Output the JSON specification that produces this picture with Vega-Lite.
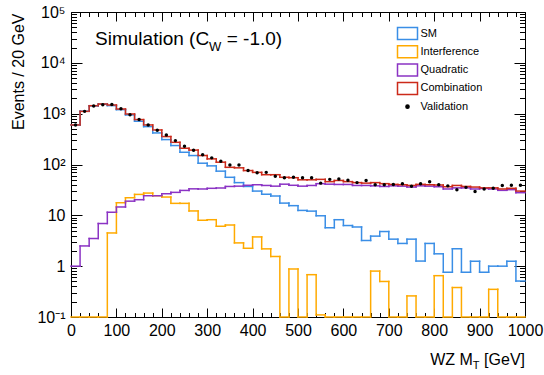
{
  "$schema": "https://vega.github.io/schema/vega-lite/v6.json",
  "width": 454,
  "height": 305,
  "autosize": {"type": "none"},
  "padding": {"left": 71, "top": 12, "right": 19, "bottom": 58},
  "background": "white",
  "config": {
    "view": {"stroke": "black", "strokeWidth": 1},
    "font": "Liberation Sans",
    "axis": {"grid": false, "domain": false, "ticks": true, "tickColor": "black", "tickWidth": 1, "labelColor": "black", "labelFont": "Liberation Sans", "labelFontSize": 16, "labelOverlap": false, "labelFlush": false, "labelBound": false, "titleColor": "black", "titleFont": "Liberation Sans", "titleFontWeight": "normal", "titleFontSize": 16}
  },
  "datasets": {
    "hist": [
      {"s":"SM","lo":0,"hi":20,"v":600},{"s":"SM","lo":20,"hi":40,"v":1120},{"s":"SM","lo":40,"hi":60,"v":1420},{"s":"SM","lo":60,"hi":80,"v":1540},{"s":"SM","lo":80,"hi":100,"v":1440},
      {"s":"SM","lo":100,"hi":120,"v":1200},{"s":"SM","lo":120,"hi":140,"v":945},{"s":"SM","lo":140,"hi":160,"v":710},{"s":"SM","lo":160,"hi":180,"v":556},{"s":"SM","lo":180,"hi":200,"v":418},
      {"s":"SM","lo":200,"hi":220,"v":309},{"s":"SM","lo":220,"hi":240,"v":236},{"s":"SM","lo":240,"hi":260,"v":174},{"s":"SM","lo":260,"hi":280,"v":150},{"s":"SM","lo":280,"hi":300,"v":106},
      {"s":"SM","lo":300,"hi":320,"v":94},{"s":"SM","lo":320,"hi":340,"v":74},{"s":"SM","lo":340,"hi":360,"v":56},{"s":"SM","lo":360,"hi":380,"v":44},{"s":"SM","lo":380,"hi":400,"v":37},
      {"s":"SM","lo":400,"hi":420,"v":30},{"s":"SM","lo":420,"hi":440,"v":26},{"s":"SM","lo":440,"hi":460,"v":24},{"s":"SM","lo":460,"hi":480,"v":17.4},{"s":"SM","lo":480,"hi":500,"v":15.5},
      {"s":"SM","lo":500,"hi":520,"v":12.5},{"s":"SM","lo":520,"hi":540,"v":12.1},{"s":"SM","lo":540,"hi":560,"v":9.8},{"s":"SM","lo":560,"hi":580,"v":5.7},{"s":"SM","lo":580,"hi":600,"v":8.2},
      {"s":"SM","lo":600,"hi":620,"v":6.3},{"s":"SM","lo":620,"hi":640,"v":5.9},{"s":"SM","lo":640,"hi":660,"v":3.2},{"s":"SM","lo":660,"hi":680,"v":3.9},{"s":"SM","lo":680,"hi":700,"v":4.8},
      {"s":"SM","lo":700,"hi":720,"v":3.4},{"s":"SM","lo":720,"hi":740,"v":2.8},{"s":"SM","lo":740,"hi":760,"v":3.4},{"s":"SM","lo":760,"hi":780,"v":1.26},{"s":"SM","lo":780,"hi":800,"v":2.8},
      {"s":"SM","lo":800,"hi":820,"v":1.75},{"s":"SM","lo":820,"hi":840,"v":0.76},{"s":"SM","lo":840,"hi":860,"v":2.2},{"s":"SM","lo":860,"hi":880,"v":0.76},{"s":"SM","lo":880,"hi":900,"v":1.25},
      {"s":"SM","lo":900,"hi":920,"v":0.76},{"s":"SM","lo":920,"hi":940,"v":1.0},{"s":"SM","lo":940,"hi":960,"v":1.0},{"s":"SM","lo":960,"hi":980,"v":1.25},{"s":"SM","lo":980,"hi":1000,"v":0.51},

      {"s":"Interference","lo":0,"hi":20,"v":0.1},{"s":"Interference","lo":20,"hi":40,"v":0.1},{"s":"Interference","lo":40,"hi":60,"v":0.1},{"s":"Interference","lo":60,"hi":80,"v":0.1},{"s":"Interference","lo":80,"hi":100,"v":4.5},
      {"s":"Interference","lo":100,"hi":120,"v":17.7},{"s":"Interference","lo":120,"hi":140,"v":22.2},{"s":"Interference","lo":140,"hi":160,"v":25.8},{"s":"Interference","lo":160,"hi":180,"v":27.4},{"s":"Interference","lo":180,"hi":200,"v":24.3},
      {"s":"Interference","lo":200,"hi":220,"v":22.9},{"s":"Interference","lo":220,"hi":240,"v":17.2},{"s":"Interference","lo":240,"hi":260,"v":17.2},{"s":"Interference","lo":260,"hi":280,"v":12.2},{"s":"Interference","lo":280,"hi":300,"v":8.0},
      {"s":"Interference","lo":300,"hi":320,"v":8.2},{"s":"Interference","lo":320,"hi":340,"v":6.1},{"s":"Interference","lo":340,"hi":360,"v":6.45},{"s":"Interference","lo":360,"hi":380,"v":2.87},{"s":"Interference","lo":380,"hi":400,"v":2.25},
      {"s":"Interference","lo":400,"hi":420,"v":3.76},{"s":"Interference","lo":420,"hi":440,"v":2.19},{"s":"Interference","lo":440,"hi":460,"v":1.55},{"s":"Interference","lo":460,"hi":480,"v":0.1},{"s":"Interference","lo":480,"hi":500,"v":0.88},
      {"s":"Interference","lo":500,"hi":520,"v":0.1},{"s":"Interference","lo":520,"hi":540,"v":0.68},{"s":"Interference","lo":540,"hi":560,"v":0.11},{"s":"Interference","lo":560,"hi":580,"v":0.1},{"s":"Interference","lo":580,"hi":600,"v":0.1},
      {"s":"Interference","lo":600,"hi":620,"v":0.1},{"s":"Interference","lo":620,"hi":640,"v":0.1},{"s":"Interference","lo":640,"hi":660,"v":0.1},{"s":"Interference","lo":660,"hi":680,"v":0.8},{"s":"Interference","lo":680,"hi":700,"v":0.5},
      {"s":"Interference","lo":700,"hi":720,"v":0.1},{"s":"Interference","lo":720,"hi":740,"v":0.1},{"s":"Interference","lo":740,"hi":760,"v":0.26},{"s":"Interference","lo":760,"hi":780,"v":0.1},{"s":"Interference","lo":780,"hi":800,"v":0.1},
      {"s":"Interference","lo":800,"hi":820,"v":0.65},{"s":"Interference","lo":820,"hi":840,"v":0.1},{"s":"Interference","lo":840,"hi":860,"v":0.38},{"s":"Interference","lo":860,"hi":880,"v":0.1},{"s":"Interference","lo":880,"hi":900,"v":0.1},
      {"s":"Interference","lo":900,"hi":920,"v":0.1},{"s":"Interference","lo":920,"hi":940,"v":0.35},{"s":"Interference","lo":940,"hi":960,"v":0.1},{"s":"Interference","lo":960,"hi":980,"v":0.1},{"s":"Interference","lo":980,"hi":1000,"v":0.1},

      {"s":"Quadratic","lo":0,"hi":20,"v":1.0},{"s":"Quadratic","lo":20,"hi":40,"v":2.5},{"s":"Quadratic","lo":40,"hi":60,"v":3.5},{"s":"Quadratic","lo":60,"hi":80,"v":6.9},{"s":"Quadratic","lo":80,"hi":100,"v":11.5},
      {"s":"Quadratic","lo":100,"hi":120,"v":14.6},{"s":"Quadratic","lo":120,"hi":140,"v":19},{"s":"Quadratic","lo":140,"hi":160,"v":20.3},{"s":"Quadratic","lo":160,"hi":180,"v":24.3},{"s":"Quadratic","lo":180,"hi":200,"v":24.3},
      {"s":"Quadratic","lo":200,"hi":220,"v":26.6},{"s":"Quadratic","lo":220,"hi":240,"v":28.3},{"s":"Quadratic","lo":240,"hi":260,"v":30.9},{"s":"Quadratic","lo":260,"hi":280,"v":33.2},{"s":"Quadratic","lo":280,"hi":300,"v":33},
      {"s":"Quadratic","lo":300,"hi":320,"v":34},{"s":"Quadratic","lo":320,"hi":340,"v":34.5},{"s":"Quadratic","lo":340,"hi":360,"v":37},{"s":"Quadratic","lo":360,"hi":380,"v":37.5},{"s":"Quadratic","lo":380,"hi":400,"v":39},
      {"s":"Quadratic","lo":400,"hi":420,"v":40},{"s":"Quadratic","lo":420,"hi":440,"v":38.7},{"s":"Quadratic","lo":440,"hi":460,"v":37.5},{"s":"Quadratic","lo":460,"hi":480,"v":41},{"s":"Quadratic","lo":480,"hi":500,"v":39},
      {"s":"Quadratic","lo":500,"hi":520,"v":37.5},{"s":"Quadratic","lo":520,"hi":540,"v":38.7},{"s":"Quadratic","lo":540,"hi":560,"v":42},{"s":"Quadratic","lo":560,"hi":580,"v":41},{"s":"Quadratic","lo":580,"hi":600,"v":40.5},
      {"s":"Quadratic","lo":600,"hi":620,"v":40.5},{"s":"Quadratic","lo":620,"hi":640,"v":38.7},{"s":"Quadratic","lo":640,"hi":660,"v":38.7},{"s":"Quadratic","lo":660,"hi":680,"v":38},{"s":"Quadratic","lo":680,"hi":700,"v":37},
      {"s":"Quadratic","lo":700,"hi":720,"v":38},{"s":"Quadratic","lo":720,"hi":740,"v":37.5},{"s":"Quadratic","lo":740,"hi":760,"v":36},{"s":"Quadratic","lo":760,"hi":780,"v":38},{"s":"Quadratic","lo":780,"hi":800,"v":37.5},
      {"s":"Quadratic","lo":800,"hi":820,"v":36.5},{"s":"Quadratic","lo":820,"hi":840,"v":33},{"s":"Quadratic","lo":840,"hi":860,"v":34.7},{"s":"Quadratic","lo":860,"hi":880,"v":34.7},{"s":"Quadratic","lo":880,"hi":900,"v":33},
      {"s":"Quadratic","lo":900,"hi":920,"v":33.8},{"s":"Quadratic","lo":920,"hi":940,"v":33},{"s":"Quadratic","lo":940,"hi":960,"v":31},{"s":"Quadratic","lo":960,"hi":980,"v":32},{"s":"Quadratic","lo":980,"hi":1000,"v":27.9},

      {"s":"Combination","lo":0,"hi":20,"v":600},{"s":"Combination","lo":20,"hi":40,"v":1110},{"s":"Combination","lo":40,"hi":60,"v":1435},{"s":"Combination","lo":60,"hi":80,"v":1550},{"s":"Combination","lo":80,"hi":100,"v":1480},
      {"s":"Combination","lo":100,"hi":120,"v":1235},{"s":"Combination","lo":120,"hi":140,"v":985},{"s":"Combination","lo":140,"hi":160,"v":765},{"s":"Combination","lo":160,"hi":180,"v":600},{"s":"Combination","lo":180,"hi":200,"v":478},
      {"s":"Combination","lo":200,"hi":220,"v":354},{"s":"Combination","lo":220,"hi":240,"v":273},{"s":"Combination","lo":240,"hi":260,"v":209},{"s":"Combination","lo":260,"hi":280,"v":192},{"s":"Combination","lo":280,"hi":300,"v":150},
      {"s":"Combination","lo":300,"hi":320,"v":129},{"s":"Combination","lo":320,"hi":340,"v":111},{"s":"Combination","lo":340,"hi":360,"v":88},{"s":"Combination","lo":360,"hi":380,"v":86},{"s":"Combination","lo":380,"hi":400,"v":76},
      {"s":"Combination","lo":400,"hi":420,"v":70},{"s":"Combination","lo":420,"hi":440,"v":63},{"s":"Combination","lo":440,"hi":460,"v":63},{"s":"Combination","lo":460,"hi":480,"v":56},{"s":"Combination","lo":480,"hi":500,"v":55},
      {"s":"Combination","lo":500,"hi":520,"v":50},{"s":"Combination","lo":520,"hi":540,"v":50},{"s":"Combination","lo":540,"hi":560,"v":51},{"s":"Combination","lo":560,"hi":580,"v":46},{"s":"Combination","lo":580,"hi":600,"v":48.5},
      {"s":"Combination","lo":600,"hi":620,"v":46},{"s":"Combination","lo":620,"hi":640,"v":44},{"s":"Combination","lo":640,"hi":660,"v":43},{"s":"Combination","lo":660,"hi":680,"v":44},{"s":"Combination","lo":680,"hi":700,"v":42},
      {"s":"Combination","lo":700,"hi":720,"v":40.6},{"s":"Combination","lo":720,"hi":740,"v":40},{"s":"Combination","lo":740,"hi":760,"v":38.7},{"s":"Combination","lo":760,"hi":780,"v":40.6},{"s":"Combination","lo":780,"hi":800,"v":40},
      {"s":"Combination","lo":800,"hi":820,"v":39.5},{"s":"Combination","lo":820,"hi":840,"v":36.5},{"s":"Combination","lo":840,"hi":860,"v":38.7},{"s":"Combination","lo":860,"hi":880,"v":37},{"s":"Combination","lo":880,"hi":900,"v":36},
      {"s":"Combination","lo":900,"hi":920,"v":34.7},{"s":"Combination","lo":920,"hi":940,"v":34.7},{"s":"Combination","lo":940,"hi":960,"v":33},{"s":"Combination","lo":960,"hi":980,"v":34},{"s":"Combination","lo":980,"hi":1000,"v":30}
    ],
    "val": [
      {"x":10,"v":600},{"x":30,"v":1110},{"x":50,"v":1420},{"x":70,"v":1500},{"x":90,"v":1520},{"x":110,"v":1250},{"x":130,"v":955},{"x":150,"v":765},{"x":170,"v":600},{"x":190,"v":470},
      {"x":210,"v":380},{"x":230,"v":295},{"x":250,"v":228},{"x":270,"v":190},{"x":290,"v":155},{"x":310,"v":135},{"x":330,"v":116},{"x":350,"v":98},{"x":370,"v":98},{"x":390,"v":76},
      {"x":410,"v":69},{"x":430,"v":70},{"x":450,"v":59},{"x":470,"v":55},{"x":490,"v":56},{"x":510,"v":55},{"x":530,"v":55},{"x":550,"v":43},{"x":570,"v":51},{"x":590,"v":52},
      {"x":610,"v":49},{"x":630,"v":44},{"x":650,"v":48.5},{"x":670,"v":40},{"x":690,"v":40},{"x":710,"v":40.6},{"x":730,"v":42},{"x":750,"v":37.5},{"x":770,"v":42},{"x":790,"v":46},
      {"x":810,"v":40},{"x":830,"v":38},{"x":850,"v":32},{"x":870,"v":35.5},{"x":890,"v":29.5},{"x":910,"v":33},{"x":930,"v":34},{"x":950,"v":38.7},{"x":970,"v":39},{"x":990,"v":39}
    ],
    "one": [{}]
  },
  "resolve": {"axis": {"x": "independent", "y": "independent"}},
  "layer": [
    {
      "data": {"name": "hist"},
      "mark": {"type": "rule", "strokeWidth": 1.5, "strokeCap": "square"},
      "encoding": {
        "x": {"field": "lo", "type": "quantitative", "scale": {"domain": [0, 1000], "nice": false, "zero": false},
          "axis": {"orient": "bottom", "title": null, "format": "d", "values": [0,100,200,300,400,500,600,700,800,900,1000],
            "offset": -9, "tickSize": 9, "labelPadding": 5}},
        "x2": {"field": "hi"},
        "y": {"field": "v", "type": "quantitative", "scale": {"type": "log", "domain": [0.1, 100000], "nice": false},
          "axis": {"orient": "left", "title": "Events / 20 GeV", "titleAngle": -90, "titleAlign": "right", "titleBaseline": "alphabetic", "titleX": -59, "titleY": 1,
            "values": [0.1, 1, 10, 100, 1000, 10000, 100000],
            "labelExpr": "datum.value < 0.11 ? '10⁻¹' : datum.value == 1 ? '1' : datum.value == 10 ? '10' : datum.value == 100 ? '10²' : datum.value == 1000 ? '10³' : datum.value == 10000 ? '10⁴' : '10⁵'",
            "offset": -11, "tickSize": 11, "labelPadding": 6}},
        "color": {"field": "s", "type": "nominal",
          "scale": {"domain": ["SM", "Interference", "Quadratic", "Combination", "Validation"], "range": ["#3a8ee6", "#ffaa00", "#8b33c4", "#cc2a1a", "#000000"]},
          "legend": {"orient": "none", "legendX": 327.5, "legendY": 12.5, "title": null, "padding": 0,
            "labelFont": "Liberation Sans", "labelFontSize": 11, "labelColor": "black", "labelOffset": 4, "rowPadding": 0.3,
            "symbolSize": 256, "symbolStrokeWidth": 1.5,
            "encode": {"symbols": {"update": {
              "shape": {"signal": "datum.value === 'Validation' ? 'circle' : 'M-1.25,-0.75H1.25V0.75H-1.25Z'"},
              "size": {"signal": "datum.value === 'Validation' ? 10 : 256"},
              "fill": {"signal": "datum.value === 'Validation' ? 'black' : 'white'"},
              "stroke": {"signal": "datum.value === 'Validation' ? 'black' : scale('color', datum.value)"},
              "strokeWidth": {"value": 1.5}}}}}}
      }
    },
    {
      "data": {"name": "hist"},
      "transform": [
        {"window": [{"op": "lag", "field": "v", "as": "pv"}], "groupby": ["s"], "sort": [{"field": "lo"}]},
        {"filter": "datum.pv != null"}
      ],
      "mark": {"type": "rule", "strokeWidth": 1.5, "strokeCap": "square"},
      "encoding": {
        "x": {"field": "lo", "type": "quantitative", "scale": {"domain": [0, 1000], "nice": false, "zero": false},
          "axis": {"orient": "bottom", "title": null, "labels": false,
            "values": [20,40,60,80,120,140,160,180,220,240,260,280,320,340,360,380,420,440,460,480,520,540,560,580,620,640,660,680,720,740,760,780,820,840,860,880,920,940,960,980],
            "offset": -4.5, "tickSize": 4.5}},
        "y": {"field": "pv", "type": "quantitative", "scale": {"type": "log", "domain": [0.1, 100000], "nice": false},
          "axis": {"orient": "left", "title": null, "labels": false,
            "values": [0.2,0.3,0.4,0.5,0.6,0.7,0.8,0.9,2,3,4,5,6,7,8,9,20,30,40,50,60,70,80,90,200,300,400,500,600,700,800,900,2000,3000,4000,5000,6000,7000,8000,9000,20000,30000,40000,50000,60000,70000,80000,90000],
            "offset": -5.5, "tickSize": 5.5}},
        "y2": {"field": "v"},
        "color": {"field": "s", "type": "nominal", "legend": null}
      }
    },
    {
      "data": {"name": "val"},
      "mark": {"type": "circle", "color": "black", "size": 12, "opacity": 1},
      "encoding": {
        "x": {"field": "x", "type": "quantitative", "scale": {"domain": [0, 1000], "nice": false, "zero": false},
          "axis": {"orient": "top", "title": null, "labels": false, "values": [0,100,200,300,400,500,600,700,800,900,1000],
            "offset": -9, "tickSize": 9}},
        "y": {"field": "v", "type": "quantitative", "scale": {"type": "log", "domain": [0.1, 100000], "nice": false},
          "axis": {"orient": "right", "title": null, "labels": false, "values": [0.1, 1, 10, 100, 1000, 10000, 100000],
            "offset": -11, "tickSize": 11}}
      }
    },
    {
      "data": {"name": "one"},
      "mark": {"type": "text", "text": "Simulation (C", "align": "left", "baseline": "alphabetic", "fontSize": 19, "font": "Liberation Sans", "color": "black"},
      "encoding": {
        "x": {"datum": 53, "type": "quantitative", "scale": {"domain": [0, 1000], "nice": false, "zero": false},
          "axis": {"orient": "top", "title": null, "labels": false,
            "values": [20,40,60,80,120,140,160,180,220,240,260,280,320,340,360,380,420,440,460,480,520,540,560,580,620,640,660,680,720,740,760,780,820,840,860,880,920,940,960,980],
            "offset": -4.5, "tickSize": 4.5}},
        "y": {"datum": 22000, "type": "quantitative", "scale": {"type": "log", "domain": [0.1, 100000], "nice": false},
          "axis": {"orient": "right", "title": null, "labels": false,
            "values": [0.2,0.3,0.4,0.5,0.6,0.7,0.8,0.9,2,3,4,5,6,7,8,9,20,30,40,50,60,70,80,90,200,300,400,500,600,700,800,900,2000,3000,4000,5000,6000,7000,8000,9000,20000,30000,40000,50000,60000,70000,80000,90000],
            "offset": -5.5, "tickSize": 5.5}}
      }
    },
    {
      "data": {"name": "one"},
      "mark": {"type": "text", "text": "W", "align": "left", "baseline": "alphabetic", "fontSize": 13, "font": "Liberation Sans", "color": "black"},
      "encoding": {
        "x": {"datum": 304, "type": "quantitative", "scale": {"domain": [0, 1000], "nice": false, "zero": false}, "axis": null},
        "y": {"datum": 17200, "type": "quantitative", "scale": {"type": "log", "domain": [0.1, 100000], "nice": false}, "axis": null}
      }
    },
    {
      "data": {"name": "one"},
      "mark": {"type": "text", "text": "= -1.0)", "align": "left", "baseline": "alphabetic", "fontSize": 19, "font": "Liberation Sans", "color": "black"},
      "encoding": {
        "x": {"datum": 343, "type": "quantitative", "scale": {"domain": [0, 1000], "nice": false, "zero": false}, "axis": null},
        "y": {"datum": 22000, "type": "quantitative", "scale": {"type": "log", "domain": [0.1, 100000], "nice": false}, "axis": null}
      }
    },
    {
      "data": {"name": "one"},
      "mark": {"type": "text", "text": "[GeV]", "align": "right", "baseline": "alphabetic", "fontSize": 16, "font": "Liberation Sans", "color": "black"},
      "encoding": {
        "x": {"datum": 1000, "type": "quantitative", "scale": {"domain": [0, 1000], "nice": false, "zero": false}, "axis": null},
        "y": {"datum": 0.0115, "type": "quantitative", "scale": {"type": "log", "domain": [0.1, 100000], "nice": false}, "axis": null}
      }
    },
    {
      "data": {"name": "one"},
      "mark": {"type": "text", "text": "T", "align": "right", "baseline": "alphabetic", "fontSize": 11, "font": "Liberation Sans", "color": "black"},
      "encoding": {
        "x": {"datum": 900, "type": "quantitative", "scale": {"domain": [0, 1000], "nice": false, "zero": false}, "axis": null},
        "y": {"datum": 0.0096, "type": "quantitative", "scale": {"type": "log", "domain": [0.1, 100000], "nice": false}, "axis": null}
      }
    },
    {
      "data": {"name": "one"},
      "mark": {"type": "text", "text": "WZ M", "align": "right", "baseline": "alphabetic", "fontSize": 16, "font": "Liberation Sans", "color": "black"},
      "encoding": {
        "x": {"datum": 885, "type": "quantitative", "scale": {"domain": [0, 1000], "nice": false, "zero": false}, "axis": null},
        "y": {"datum": 0.0115, "type": "quantitative", "scale": {"type": "log", "domain": [0.1, 100000], "nice": false}, "axis": null}
      }
    }
  ]
}
